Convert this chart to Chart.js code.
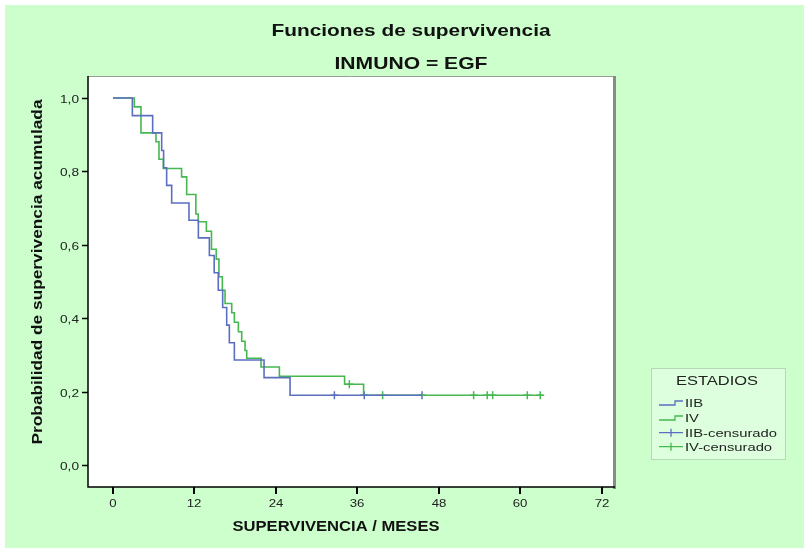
<!DOCTYPE html>
<html><head><meta charset="utf-8">
<script src="https://cdn.jsdelivr.net/npm/chart.js@4.4.1/dist/chart.umd.min.js"></script>
<style>html,body{margin:0;padding:0;background:#fff;}</style>
</head><body>
<canvas id="c" width="804" height="548"></canvas>
<script>
// ---- data ----
const chartTitle = 'Funciones de supervivencia';
const chartSubtitle = 'INMUNO = EGF';
const xAxisTitle = 'SUPERVIVENCIA / MESES';
const yAxisTitle = 'Probabilidad de supervivencia acumulada';
const legendTitle = 'ESTADIOS';
const seriesNames = ['IIB', 'IV', 'IIB-censurado', 'IV-censurado'];
const xTicks = [0, 12, 24, 36, 48, 60, 72];
const yTicks = [0, 0.2, 0.4, 0.6, 0.8, 1.0];
const yTickLabels = ['0,0', '0,2', '0,4', '0,6', '0,8', '1,0'];

const iibTime = [0, 2.85, 5.84, 7.17, 7.45, 7.9, 8.64, 11.19, 12.57, 14.19, 14.9, 15.5, 16.15, 16.74, 17.13, 17.87, 22.24, 26.07, 45.5];
const iibSurv = [1, 0.952, 0.905, 0.857, 0.810, 0.762, 0.714, 0.667, 0.619, 0.571, 0.524, 0.476, 0.429, 0.381, 0.333, 0.286, 0.238, 0.190, 0.190];
const ivTime = [0, 3.14, 4.12, 6.33, 6.77, 7.41, 10.1, 10.85, 12.2, 12.55, 13.75, 14.5, 15.2, 15.6, 16.1, 16.5, 17.48, 17.87, 18.46, 18.95, 19.44, 19.69, 21.8, 24.5, 34.1, 36.9, 63.3];
const ivSurv = [1, 0.976, 0.905, 0.881, 0.833, 0.808, 0.785, 0.737, 0.684, 0.663, 0.637, 0.588, 0.561, 0.513, 0.476, 0.44, 0.415, 0.389, 0.363, 0.337, 0.312, 0.291, 0.267, 0.242, 0.22, 0.19, 0.19];
const iibCensTime = [32.6, 37.0, 45.5];
const iibCensSurv = [0.19, 0.19, 0.19];
const ivCensTime = [34.8, 39.7, 53.1, 55.1, 55.9, 61.0, 62.9];
const ivCensSurv = [0.22, 0.19, 0.19, 0.19, 0.19, 0.19, 0.19];

// ---- styles ----
const BLUE = '#5b6fc0';
const GREEN = '#45b84f';
const BG = '#ccffcc';
const FONT = '"Liberation Sans", Arial, sans-serif';

const pts = (xs, ys) => xs.map((x, i) => ({x: x, y: ys[i]}));

function fitText(ctx, text, x, y, size, weight, targetW, align) {
  ctx.font = weight + ' ' + size + 'px ' + FONT;
  const w = ctx.measureText(text).width;
  const sx = targetW ? targetW / w : 1;
  ctx.save();
  ctx.translate(x, y);
  ctx.scale(sx, 1);
  ctx.textAlign = align || 'center';
  ctx.textBaseline = 'alphabetic';
  ctx.fillText(text, 0, 0);
  ctx.restore();
}

const decor = {
  id: 'decor',
  beforeDraw(chart) {
    const ctx = chart.ctx, a = chart.chartArea;
    ctx.save();
    ctx.fillStyle = '#ffffff';
    ctx.fillRect(0, 0, chart.width, chart.height);
    ctx.fillStyle = BG;
    ctx.fillRect(5, 5, chart.width - 5, chart.height - 5);
    ctx.fillStyle = '#ffffff';
    ctx.fillRect(a.left, a.top, a.right - a.left, a.bottom - a.top);
    ctx.restore();
  },
  afterDraw(chart) {
    const ctx = chart.ctx, a = chart.chartArea;
    const xs = chart.scales.x, ys = chart.scales.y;
    ctx.save();
    // frame
    ctx.strokeStyle = '#9a9a9a'; ctx.lineWidth = 1;
    ctx.beginPath(); ctx.moveTo(a.left, a.top + 0.5); ctx.lineTo(a.right, a.top + 0.5); ctx.stroke();
    ctx.strokeStyle = '#8a8a8a'; ctx.lineWidth = 3;
    ctx.beginPath(); ctx.moveTo(a.right + 1.5, a.top); ctx.lineTo(a.right + 1.5, a.bottom + 2); ctx.stroke();
    ctx.strokeStyle = '#000000'; ctx.lineWidth = 1.5;
    ctx.beginPath(); ctx.moveTo(a.left, a.top); ctx.lineTo(a.left, a.bottom); ctx.lineTo(a.right + 2, a.bottom); ctx.stroke();
    // ticks
    ctx.fillStyle = '#222';
    ctx.lineWidth = 1.5; ctx.strokeStyle = '#000';
    yTicks.forEach((v, i) => {
      const py = Math.round(ys.getPixelForValue(v)) + 0.5;
      ctx.beginPath(); ctx.moveTo(a.left - 6, py); ctx.lineTo(a.left, py); ctx.stroke();
      ctx.font = '11px ' + FONT;
      fitText(ctx, yTickLabels[i], a.left - 9, py + 4, 11, 'normal', 19, 'right');
    });
    ctx.lineWidth = 2;
    xTicks.forEach(v => {
      const px = Math.round(xs.getPixelForValue(v));
      ctx.beginPath(); ctx.moveTo(px, a.bottom); ctx.lineTo(px, a.bottom + 7); ctx.stroke();
      ctx.font = '11px ' + FONT;
      const w = ctx.measureText(String(v)).width * 1.2;
      fitText(ctx, String(v), px, a.bottom + 20, 11, 'normal', w, 'center');
    });
    // titles
    ctx.fillStyle = '#111';
    fitText(ctx, chartTitle, 411, 36, 17, 'bold', 279, 'center');
    fitText(ctx, chartSubtitle, 411, 69, 17, 'bold', 153, 'center');
    fitText(ctx, xAxisTitle, 336, 531, 15, 'bold', 207, 'center');
    ctx.save();
    ctx.translate(42, 272);
    ctx.rotate(-Math.PI / 2);
    fitText(ctx, yAxisTitle, 0, 0, 14, 'bold', 345, 'center');
    ctx.restore();
    // legend
    const lx = 651, ly = 368, lw = 134, lh = 91;
    ctx.fillStyle = '#ddffdd';
    ctx.fillRect(lx, ly, lw, lh);
    ctx.strokeStyle = '#b5d8b5'; ctx.lineWidth = 1;
    ctx.strokeRect(lx + 0.5, ly + 0.5, lw, lh);
    ctx.fillStyle = '#222';
    fitText(ctx, legendTitle, 717, 385, 13, 'normal', 82, 'center');
    ctx.font = '11px ' + FONT;
    const sx = 92 / ctx.measureText('IIB-censurado').width;
    const rows = [403, 418, 432.7, 446.7];
    const cols = [BLUE, GREEN, BLUE, GREEN];
    rows.forEach((ry, i) => {
      ctx.strokeStyle = cols[i]; ctx.lineWidth = 1.3;
      ctx.beginPath();
      if (i < 2) {
        ctx.moveTo(659, ry + 2); ctx.lineTo(675, ry + 2); ctx.lineTo(675, ry - 2); ctx.lineTo(683, ry - 2);
      } else {
        ctx.moveTo(659, ry); ctx.lineTo(683, ry);
        ctx.moveTo(671, ry - 4); ctx.lineTo(671, ry + 4);
      }
      ctx.stroke();
      ctx.fillStyle = '#222';
      ctx.font = '11px ' + FONT;
      const w = ctx.measureText(seriesNames[i]).width * sx;
      fitText(ctx, seriesNames[i], 685, ry + 4, 11, 'normal', w, 'left');
    });
    ctx.restore();
  }
};

new Chart(document.getElementById('c'), {
  type: 'scatter',
  data: {
    datasets: [
      {label: seriesNames[0], data: pts(iibTime, iibSurv), showLine: true, stepped: true,
       borderColor: BLUE, borderWidth: 1.6, pointRadius: 0, fill: false},
      {label: seriesNames[1], data: pts(ivTime, ivSurv), showLine: true, stepped: true,
       borderColor: GREEN, borderWidth: 1.6, pointRadius: 0, fill: false},
      {label: seriesNames[2], data: pts(iibCensTime, iibCensSurv), showLine: false,
       pointStyle: 'cross', pointRadius: 4, borderColor: BLUE, borderWidth: 1.5},
      {label: seriesNames[3], data: pts(ivCensTime, ivCensSurv), showLine: false,
       pointStyle: 'cross', pointRadius: 4, borderColor: GREEN, borderWidth: 1.5}
    ]
  },
  options: {
    responsive: false,
    devicePixelRatio: 1,
    animation: false,
    layout: {padding: {left: 0, top: 76, right: 191, bottom: 0}},
    plugins: {legend: {display: false}, title: {display: false}, tooltip: {enabled: false}},
    scales: {
      x: {type: 'linear', min: -3.68, max: 73.62,
          grid: {display: false}, border: {display: false}, ticks: {display: false},
          afterBuildTicks: s => { s.ticks = xTicks.map(v => ({value: v})); },
          afterFit: s => { s.height = 61; }},
      y: {type: 'linear', min: -0.06, max: 1.06,
          grid: {display: false}, border: {display: false}, ticks: {display: false},
          afterBuildTicks: s => { s.ticks = yTicks.map(v => ({value: v})); },
          afterFit: s => { s.width = 88; }}
    }
  },
  plugins: [decor]
});
</script>
</body></html>
